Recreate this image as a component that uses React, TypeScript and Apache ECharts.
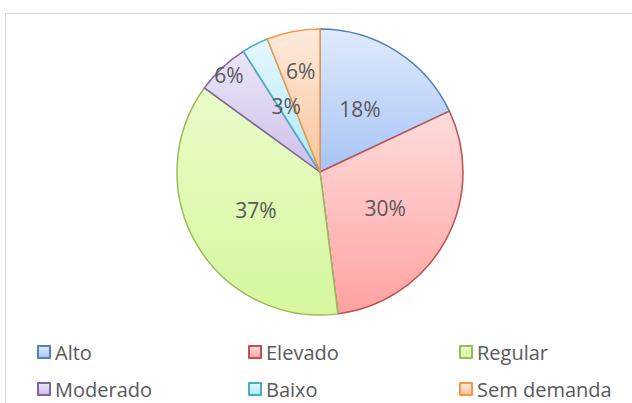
import React, { useEffect, useRef } from "react";
import * as echarts from "echarts";

const categories = ["Alto", "Elevado", "Regular", "Moderado", "Baixo", "Sem demanda"];
const values = [18, 30, 37, 6, 3, 6];
const borderColors = ["#4f81bd", "#c0504d", "#9bbb59", "#8064a2", "#4bacc6", "#f79646"];
const topColors = ["#e0eafc", "#ffdcdc", "#e9fcc9", "#ece6f7", "#e4f8fe", "#fdebdd"];
const bottomColors = ["#a7c4f6", "#ffa2a2", "#d6f79e", "#cdbfea", "#b0e8f9", "#fbc59b"];
const legendColumns = [["Alto", "Moderado"], ["Elevado", "Baixo"], ["Regular", "Sem demanda"]];
const outerLabelItems = ["Moderado"];
const midLabelItems = ["Sem demanda"];

const FONT = "'Open Sans'";
const TEXT = "#595959";

function grad(i: number) {
  return new echarts.graphic.LinearGradient(0, 0, 0, 1, [
    { offset: 0, color: topColors[i] },
    { offset: 1, color: bottomColors[i] },
  ]);
}

export default function App() {
  const ref = useRef<HTMLDivElement>(null);
  useEffect(() => {
    if (!ref.current) return;
    const chart = echarts.init(ref.current, null, { renderer: "svg" });
    const labelStyle = { color: TEXT, fontSize: 21, fontFamily: FONT };
    const mainData = categories.map((name, i) => ({
      name,
      value: values[i],
      itemStyle: { color: grad(i), borderColor: borderColors[i], borderWidth: 1.5 },
      label: {
        show: !outerLabelItems.includes(name) && !midLabelItems.includes(name),
      },
    }));
    const ghost = (showList: string[]) =>
      categories.map((name, i) => ({
        name,
        value: values[i],
        itemStyle: { color: "rgba(0,0,0,0)", borderWidth: 0 },
        label: { show: showList.includes(name) },
      }));
    const common = {
      type: "pie" as const,
      center: [320, 172],
      startAngle: 90,
      clockwise: true,
      avoidLabelOverlap: false,
      labelLine: { show: false },
      emphasis: { disabled: true },
    };
    chart.setOption({
      animation: false,
      backgroundColor: "#ffffff",
      graphic: [
        {
          type: "rect",
          shape: { x: 5.5, y: 13.5, width: 700, height: 500 },
          style: { fill: "none", stroke: "#d9d9d9", lineWidth: 1 },
          silent: true,
        },
      ],
      legend: legendColumns.map((col, k) => ({
        data: col,
        orient: "vertical",
        left: 37 + k * 211,
        top: 342,
        padding: 0,
        itemWidth: 12,
        itemHeight: 12,
        itemGap: 17,
        icon: "rect",
        selectedMode: false,
        textStyle: { color: TEXT, fontSize: 20, fontFamily: FONT },
      })),
      series: [
        {
          ...common,
          name: "main",
          radius: [0, 143],
          label: { position: "inside", formatter: "{c}%", ...labelStyle },
          data: mainData,
        },
        {
          ...common,
          name: "labelsOuter",
          silent: true,
          radius: [117, 143],
          label: { position: "inside", formatter: "{c}%", ...labelStyle },
          data: ghost(outerLabelItems),
        },
        {
          ...common,
          name: "labelsMid",
          silent: true,
          radius: [57, 143],
          label: { position: "inside", formatter: "{c}%", ...labelStyle },
          data: ghost(midLabelItems),
        },
      ],
    });
    return () => chart.dispose();
  }, []);
  return (
    <div
      ref={ref}
      style={{ position: "fixed", left: 0, top: 0, width: 632, height: 403 }}
    />
  );
}
